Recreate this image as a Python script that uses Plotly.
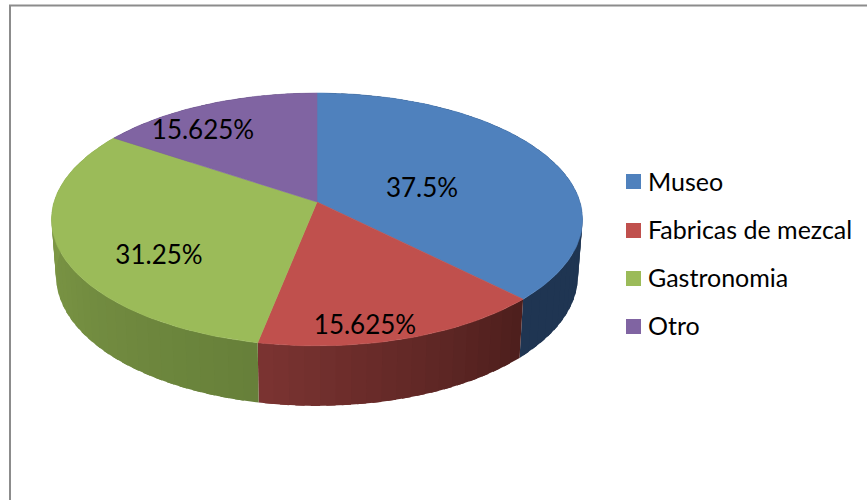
import math
import plotly.graph_objects as go

# ---- data ----
categories = ["Museo", "Fabricas de mezcal", "Gastronomia", "Otro"]
values = [37.5, 15.625, 31.25, 15.625]
top_colors = ["#4F81BD", "#C0504D", "#9BBB59", "#8064A2"]
side_start = ["#1F3552", "#7A3331", "#87A24B", "#4A3A60"]
side_end = ["#1F3552", "#4E1F1D", "#67803A", "#4A3A60"]

# ---- geometry of the tilted disc (pixels) ----
CX, K = 317.0, 0.138
TOP = dict(y0=202.0, rx=263.0, ry=124.0)
BOT = dict(y0=258.0, rx=258.5, ry=127.5)
LABEL_XY = [(422, 190), (365, 327), (159, 257), (203, 132)]
LEG_X, LEG_TEXT_X = 633.5, 648
LEG_Y = [181.5, 230.5, 278.5, 326.5]
LEG_TEXT_Y = [185, 232.5, 281, 329]
FONT = "Lato, Carlito, Calibri, sans-serif"


def project(frac, g):
    a = 2 * math.pi * frac
    u, v = math.sin(a), -math.cos(a)
    w = 1 - K * v
    return CX + g["rx"] * u / w, g["y0"] + g["ry"] * v / w


def mix(c1, c2, t):
    p = [int(c1[i:i + 2], 16) for i in (1, 3, 5)]
    q = [int(c2[i:i + 2], 16) for i in (1, 3, 5)]
    return "rgb(%d,%d,%d)" % tuple(round(a + (b - a) * t) for a, b in zip(p, q))


total = sum(values)
edges = [0.0]
for val in values:
    edges.append(edges[-1] + val / total)

fig = go.Figure()

# side wall: overlapping steps painted in angle order, so no seams show
for i, cat in enumerate(categories):
    f0, f1 = edges[i], edges[i + 1]
    steps = max(2, round((f1 - f0) * 120))
    for s in range(steps):
        a = f0 + (f1 - f0) * s / steps
        b = f1 if s == steps - 1 else f0 + (f1 - f0) * (s + 1.6) / steps
        t1 = [project(a + (b - a) * j / 4, TOP) for j in range(5)]
        b1 = [project(b - (b - a) * j / 4, BOT) for j in range(5)]
        poly = t1 + b1 + t1[:1]
        t = s / (steps - 1)
        col = mix(side_end[i], side_start[i], t) if i in (1, 2) else mix(side_start[i], side_end[i], t)
        fig.add_trace(go.Scatter(x=[p[0] for p in poly], y=[p[1] for p in poly], mode="lines",
                                 fill="toself", fillcolor=col, line=dict(color=col, width=0),
                                 hoverinfo="skip", showlegend=False))

# top face
for i, cat in enumerate(categories):
    f0, f1 = edges[i], edges[i + 1]
    n = max(8, round((f1 - f0) * 240))
    arc = [project(f0 + (f1 - f0) * j / n, TOP) for j in range(n + 1)]
    poly = [(CX, TOP["y0"])] + arc + [(CX, TOP["y0"])]
    fig.add_trace(go.Scatter(x=[p[0] for p in poly], y=[p[1] for p in poly], mode="lines",
                             fill="toself", fillcolor=top_colors[i],
                             line=dict(color=top_colors[i], width=0.6),
                             name=cat, hoverinfo="skip", showlegend=False))

# value labels
fig.add_trace(go.Scatter(x=[p[0] for p in LABEL_XY], y=[p[1] for p in LABEL_XY], mode="text",
                         text=[f"{v:g}%" for v in values], textposition="middle center",
                         textfont=dict(family=FONT, size=26, color="#000000"),
                         hoverinfo="skip", showlegend=False))

# legend
fig.add_trace(go.Scatter(x=[LEG_X] * 4, y=LEG_Y, mode="markers",
                         marker=dict(symbol="square", size=15, color=top_colors, line=dict(width=0)),
                         hoverinfo="skip", showlegend=False))
fig.add_trace(go.Scatter(x=[LEG_TEXT_X] * 4, y=LEG_TEXT_Y, mode="text", text=categories,
                         textposition="middle right",
                         textfont=dict(family=FONT, size=25, color="#000000"),
                         hoverinfo="skip", showlegend=False))

fig.update_layout(
    width=867, height=500, autosize=False,
    margin=dict(l=0, r=0, t=0, b=0),
    paper_bgcolor="white", plot_bgcolor="white",
    xaxis=dict(range=[0, 867], visible=False, fixedrange=True),
    yaxis=dict(range=[500, 0], visible=False, fixedrange=True),
    shapes=[dict(type="path", path="M 10 500 L 10 5.5 L 867 5.5", xref="x", yref="y",
                 line=dict(color="#8C8C8C", width=2))],
)
fig.write_html("out.html", config={"displayModeBar": False},
               post_script="document.body.style.margin='0';document.body.style.overflow='hidden';")
